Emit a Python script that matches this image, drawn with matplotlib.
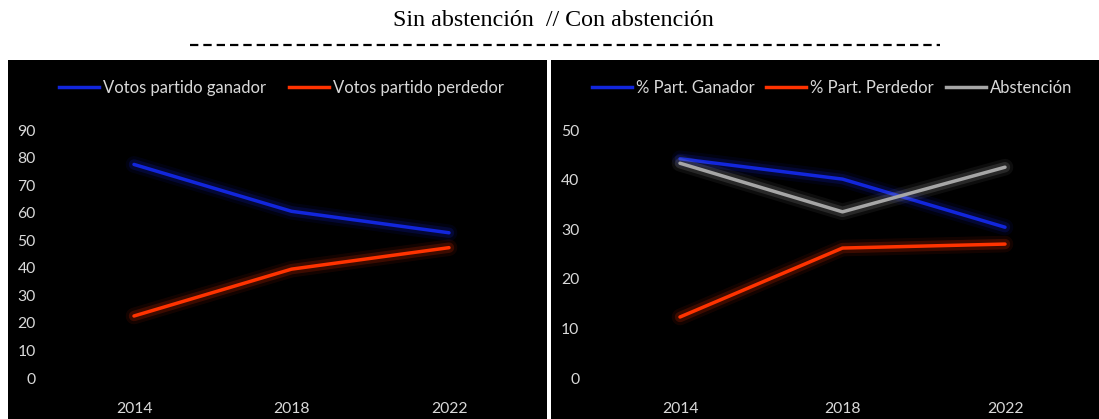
import matplotlib
matplotlib.use("Agg")
import matplotlib.pyplot as plt
import matplotlib.patheffects as pe
from matplotlib.patches import Rectangle
from matplotlib.lines import Line2D

years = ["2014", "2018", "2022"]
left_ganador = [77.5, 60.5, 52.7]
left_perdedor = [22.5, 39.5, 47.3]
right_ganador = [44.2, 40.1, 30.4]
right_perdedor = [12.3, 26.2, 27.0]
right_abstencion = [43.3, 33.5, 42.5]
left_labels = ["Votos partido ganador", "Votos partido perdedor"]
right_labels = ["% Part. Ganador", "% Part. Perdedor", "Abstención"]
title = "Sin abstención  // Con abstención"

BLUE = "#1226dc"
RED = "#ff3300"
GRAY = "#a6a6a6"
TXT = "#d9d9d9"
FONT = "Lato"

W, H = 1099, 419
fig = plt.figure(figsize=(W / 100, H / 100), dpi=100)
fig.patch.set_facecolor("white")

def fx(px):
    return px / W

def fy(py):
    return 1 - py / H

# black panels
fig.patches.append(Rectangle((fx(8), 0), fx(539), fy(60), transform=fig.transFigure,
                             facecolor="black", edgecolor="none", zorder=-10))
fig.patches.append(Rectangle((fx(551), 0), fx(548), fy(60), transform=fig.transFigure,
                             facecolor="black", edgecolor="none", zorder=-10))

# title and dashed rule
fig.text(fx(553), fy(21), title, ha="center", va="center", fontsize=17.3,
         family="Liberation Serif", color="black")
lw = 1.6
fig.lines.append(Line2D([fx(190), fx(940)], [fy(45), fy(45)], transform=fig.transFigure,
                        color="black", lw=lw, linestyle=(0, (6.0 / lw, 3.6 / lw))))

def glow(color):
    return [pe.Stroke(linewidth=12, foreground=color, alpha=0.08),
            pe.Stroke(linewidth=7.5, foreground=color, alpha=0.18),
            pe.Normal()]

def setup(ax, ymax, step):
    ax.set_facecolor("none")
    ax.set_zorder(5)
    for s in ax.spines.values():
        s.set_visible(False)
    ax.set_ylim(0, ymax)
    ax.set_xlim(-0.5, 2.5)
    ax.set_yticks(range(0, ymax + 1, step))
    ax.set_xticks(range(len(years)))
    ax.set_xticklabels(years)
    ax.tick_params(length=0, colors=TXT, labelsize=11.3)
    for lab in ax.get_xticklabels() + ax.get_yticklabels():
        lab.set_family(FONT)
        lab.set_color(TXT)
    ax.tick_params(axis="x", pad=17)

y0, y1 = fy(378), fy(130)
x = list(range(len(years)))
LW = 2.5

# left chart
axL = fig.add_axes([fx(55.25), y0, fx(472.5), y1 - y0])
setup(axL, 90, 10)
axL.tick_params(axis="y", pad=14)
axL.plot(x, left_ganador, color=BLUE, lw=LW, solid_capstyle="round", path_effects=glow(BLUE))
axL.plot(x, left_perdedor, color=RED, lw=LW, solid_capstyle="round", path_effects=glow(RED))
legL = axL.legend([Line2D([], [], color=BLUE, lw=LW), Line2D([], [], color=RED, lw=LW)],
                  left_labels, loc="center", bbox_to_anchor=(fx(281.5), fy(88)),
                  bbox_transform=fig.transFigure, ncol=2, frameon=False,
                  handlelength=2.4, handletextpad=0.24, columnspacing=1.38,
                  prop={"family": FONT, "size": 12})
for t in legL.get_texts():
    t.set_color(TXT)

# right chart
axR = fig.add_axes([fx(598.75), y0, fx(487.5), y1 - y0])
setup(axR, 50, 10)
axR.tick_params(axis="y", pad=14)
axR.plot(x, right_ganador, color=BLUE, lw=LW, solid_capstyle="round", path_effects=glow(BLUE))
axR.plot(x, right_perdedor, color=RED, lw=LW, solid_capstyle="round", path_effects=glow(RED))
axR.plot(x, right_abstencion, color=GRAY, lw=LW, solid_capstyle="round", path_effects=glow(GRAY))
legR = axR.legend([Line2D([], [], color=BLUE, lw=LW), Line2D([], [], color=RED, lw=LW),
                   Line2D([], [], color=GRAY, lw=LW)],
                  right_labels, loc="center", bbox_to_anchor=(fx(832), fy(88)),
                  bbox_transform=fig.transFigure, ncol=3, frameon=False,
                  handlelength=2.4, handletextpad=0.24, columnspacing=0.7,
                  prop={"family": FONT, "size": 12})
for t in legR.get_texts():
    t.set_color(TXT)

fig.savefig("out.png", dpi=100, facecolor=fig.get_facecolor())
